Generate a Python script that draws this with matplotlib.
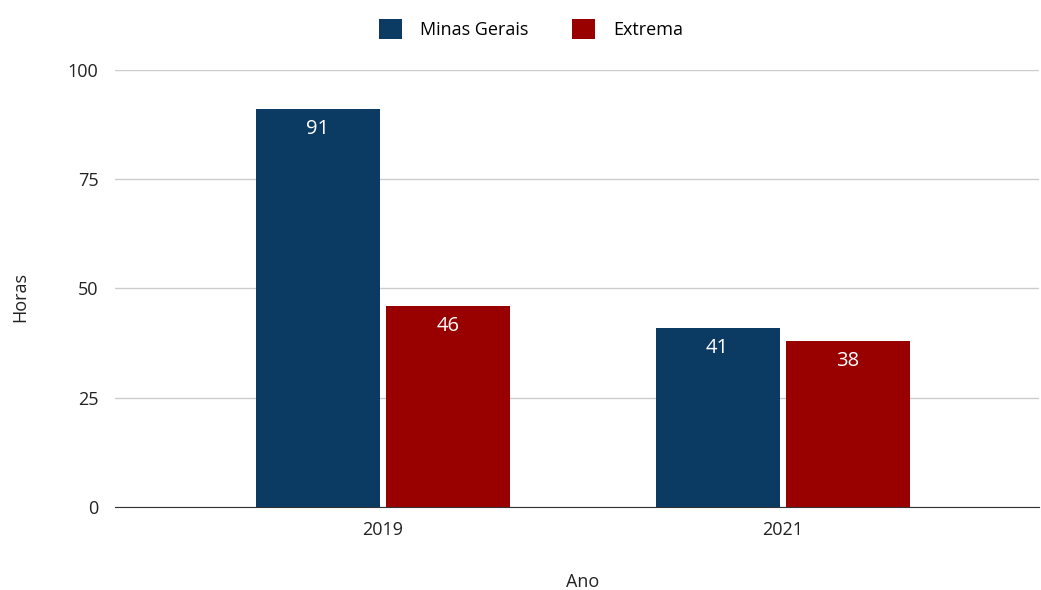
import matplotlib
matplotlib.use("Agg")
import matplotlib.pyplot as plt
import numpy as np

plt.rcParams['font.family'] = ['Open Sans', 'DejaVu Sans']

years = ["2019", "2021"]
minas_gerais = [91, 41]
extrema = [46, 38]
series_names = ["Minas Gerais", "Extrema"]
colors = ["#0b3a63", "#990000"]

fig = plt.figure(figsize=(10.41, 5.9), dpi=100)
ax = fig.add_axes([0.1105, 0.1407, 0.888, 0.7407])

x = np.arange(len(years))
w = 0.31
offs = [-0.1625, 0.1625]
for vals, off, c, name in zip([minas_gerais, extrema], offs, colors, series_names):
    bars = ax.bar(x + off, vals, width=w, color=c, label=name, zorder=3)
    for b, v in zip(bars, vals):
        ax.annotate(str(v), (b.get_x() + b.get_width() / 2, v), xytext=(0, -7),
                    textcoords="offset points", ha="center", va="top",
                    color="white", fontsize=14.5, zorder=4)

ax.set_xlim(-0.67, 1.6425)
ax.set_ylim(0, 100)
ax.set_yticks([0, 25, 50, 75, 100])
ax.set_xticks(x)
ax.set_xticklabels(years)
ax.grid(axis="y", color="#cccccc", linewidth=1, zorder=0)
for s in ["top", "right", "left"]:
    ax.spines[s].set_visible(False)
ax.spines["bottom"].set_color("#333333")
ax.tick_params(axis="both", length=0, labelsize=13, colors="#222222")
ax.tick_params(axis="x", pad=10)
ax.tick_params(axis="y", pad=12)
ax.set_xlabel("Ano", fontsize=13, color="#222222")
ax.set_ylabel("Horas", fontsize=13, color="#222222")
# place axis titles at pixel positions matching reference
ax.xaxis.set_label_coords((583 - 115) / 925, -(582 - 507) / 437, transform=None) if False else None
ax.xaxis.set_label_coords((583 - 115) / 925, -(582 - 507) / 437)
ax.xaxis.label.set_va("center")
ax.yaxis.set_label_coords(-(115 - 20) / 925, (507 - 297) / 437)
ax.yaxis.label.set_va("center")

fig.legend(loc="upper center", bbox_to_anchor=(0.51, 0.995), ncol=2, frameon=False,
           fontsize=13, handlelength=1.3, handleheight=1.3, columnspacing=2.4,
           handletextpad=1.0)

fig.savefig("out.png", dpi=100)
